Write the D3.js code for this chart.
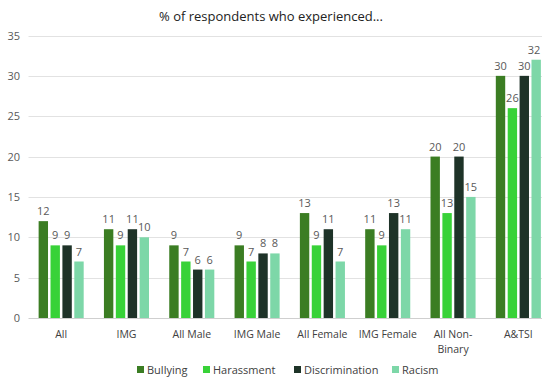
<!DOCTYPE html>
<html lang="en">
<head>
<meta charset="UTF-8">
<title>% of respondents who experienced...</title>
<script src="https://d3js.org/d3.v7.min.js"></script>
<style>
  body { margin: 0; background: #fff; }
  svg { font-family: "Open Sans", "Liberation Sans", sans-serif; }
</style>
</head>
<body>
<svg id="chart" width="542" height="378"></svg>
<script>
// data
const groups = ["All", "IMG", "All Male", "IMG Male", "All Female", "IMG Female", "All Non-Binary", "A&TSI"];
const series = ["Bullying", "Harassment", "Discrimination", "Racism"];
const bullying       = [12, 11, 9, 9, 13, 11, 20, 30];
const harassment     = [9, 9, 7, 7, 9, 9, 13, 26];
const discrimination = [9, 11, 6, 8, 11, 13, 20, 30];
const racism         = [7, 10, 6, 8, 7, 11, 15, 32];
const yTicks = [0, 5, 10, 15, 20, 25, 30, 35];
const colors = ["#3b7d23", "#38d238", "#1e3328", "#7dd7a8"];

const values = [bullying, harassment, discrimination, racism];

const svg = d3.select("#chart");
const plotTop = 35.5, plotBottom = 318, plotLeft = 28.5, plotRight = 551;

const y = d3.scaleLinear().domain([0, 35]).range([plotBottom, plotTop]);
const x0 = d3.scaleBand().domain(groups).range([plotLeft, plotRight]).paddingInner(0.31).paddingOuter(0.155);
const x1 = d3.scaleBand().domain(series).range([0, x0.bandwidth()]).paddingInner(0.21);

// title
svg.append("text")
  .attr("x", 271).attr("y", 21)
  .attr("text-anchor", "middle")
  .style("font-size", "13px").style("fill", "#222")
  .text("% of respondents who experienced...");

// grid
svg.append("g").selectAll("line")
  .data(yTicks)
  .enter().append("line")
  .attr("x1", plotLeft).attr("x2", 542)
  .attr("y1", d => Math.round(y(d)) + 0.5).attr("y2", d => Math.round(y(d)) + 0.5)
  .style("stroke", d => d === 0 ? "#cfcfcf" : "#e2e2e2")
  .style("stroke-width", 1);

// y labels
svg.append("g").selectAll("text")
  .data(yTicks)
  .enter().append("text")
  .attr("x", 20).attr("y", d => y(d) + 4)
  .attr("text-anchor", "end")
  .style("font-size", "11px").style("fill", "#595959")
  .text(d => d);

// bars
const g = svg.append("g").selectAll("g")
  .data(groups)
  .enter().append("g")
  .attr("transform", d => "translate(" + x0(d) + ",0)");

g.selectAll("rect")
  .data((d, gi) => series.map((s, si) => ({ g: d, s: s, si: si, v: values[si][gi] })))
  .enter().append("rect")
  .attr("x", d => x1(d.s))
  .attr("y", d => y(d.v))
  .attr("width", x1.bandwidth())
  .attr("height", d => y(0) - y(d.v))
  .style("fill", d => colors[d.si]);

// value labels (kept inside the right edge)
g.selectAll("text")
  .data((d, gi) => series.map((s, si) => ({ g: d, s: s, si: si, v: values[si][gi] })))
  .enter().append("text")
  .attr("x", d => Math.min(x1(d.s) + x1.bandwidth() / 2, 534 - x0(d.g)))
  .attr("y", d => y(d.v) - 6)
  .attr("text-anchor", "middle")
  .style("font-size", "11px").style("fill", "#595959")
  .text(d => d.v);

// x labels
const xl = svg.append("g").selectAll("text")
  .data(groups)
  .enter().append("text")
  .attr("x", d => x0(d) + x0.bandwidth() / 2)
  .attr("y", 338)
  .attr("text-anchor", "middle")
  .style("font-size", "10.5px").style("fill", "#404040");
xl.each(function (d) {
  const lines = d === "All Non-Binary" ? ["All Non-", "Binary"] : [d];
  const t = d3.select(this);
  lines.forEach((ln, i) => {
    t.append("tspan")
      .attr("x", x0(d) + x0.bandwidth() / 2)
      .attr("dy", i === 0 ? 0 : 15)
      .text(ln);
  });
});

// legend
const legX = [137, 203, 294, 392];
const leg = svg.append("g").selectAll("g")
  .data(series)
  .enter().append("g")
  .attr("transform", (d, i) => "translate(" + legX[i] + ",366)");
leg.append("rect")
  .attr("width", 7).attr("height", 7)
  .style("fill", (d, i) => colors[i]);
leg.append("text")
  .attr("x", 10).attr("y", 7.5)
  .style("font-size", "11px").style("fill", "#404040")
  .text(d => d);
</script>
</body>
</html>
